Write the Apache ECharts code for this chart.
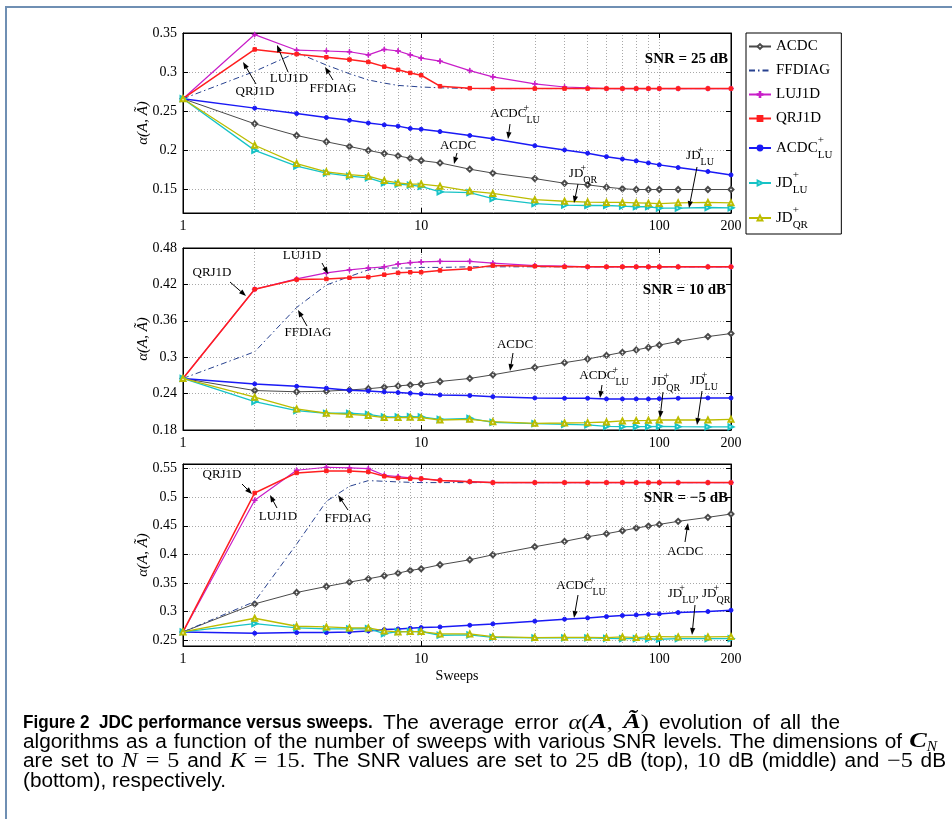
<!DOCTYPE html>
<html>
<head>
<meta charset="utf-8">
<title>JDC performance versus sweeps</title>
<script src="https://cdn.jsdelivr.net/npm/echarts@6/dist/echarts.min.js"></script>
<style>
  html, body { margin: 0; padding: 0; background: #fff; }
  #main { width: 952px; height: 819px; }
</style>
</head>
<body>
<div id="main"></div>
<script>
// sweeps on the x axis (log scale)
var sweeps = [1, 2, 3, 4, 5, 6, 7, 8, 9, 10, 12, 16, 20, 30, 40, 50, 60, 70, 80, 90, 100, 120, 160, 200];
var minorSweeps = [2, 3, 4, 5, 6, 7, 8, 9, 20, 30, 40, 50, 60, 70, 80, 90];

// SNR = 25 dB
var acdc25   = [0.266, 0.234, 0.219, 0.211, 0.205, 0.200, 0.196, 0.193, 0.190, 0.187, 0.184, 0.176, 0.171, 0.164, 0.158, 0.156, 0.153, 0.151, 0.150, 0.150, 0.150, 0.150, 0.150, 0.150];
var ffdiag25 = [0.266, 0.301, 0.325, 0.309, 0.298, 0.290, 0.286, 0.283, 0.282, 0.281, 0.280, 0.279, 0.279, 0.279, 0.279, 0.279, 0.279, 0.279, 0.279, 0.279, 0.279, 0.279, 0.279, 0.279];
var luj1d25  = [0.266, 0.348, 0.328, 0.327, 0.326, 0.322, 0.329, 0.327, 0.322, 0.318, 0.314, 0.302, 0.294, 0.285, 0.281, 0.280, 0.279, 0.279, 0.279, 0.279, 0.279, 0.279, 0.279, 0.279];
var qrj1d25  = [0.266, 0.329, 0.323, 0.319, 0.316, 0.313, 0.307, 0.303, 0.299, 0.296, 0.282, 0.2795, 0.279, 0.279, 0.279, 0.279, 0.279, 0.279, 0.279, 0.279, 0.279, 0.279, 0.279, 0.279];
var acdclu25 = [0.266, 0.254, 0.247, 0.242, 0.2385, 0.235, 0.2326, 0.231, 0.228, 0.227, 0.224, 0.219, 0.215, 0.206, 0.2006, 0.1964, 0.192, 0.189, 0.1866, 0.184, 0.1815, 0.178, 0.173, 0.1687];
var jdlu25   = [0.266, 0.200, 0.180, 0.171, 0.167, 0.165, 0.1585, 0.157, 0.1555, 0.154, 0.147, 0.146, 0.1385, 0.132, 0.130, 0.1296, 0.1296, 0.1287, 0.128, 0.128, 0.1262, 0.1262, 0.127, 0.1266];
var jdqr25   = [0.266, 0.2066, 0.1832, 0.1726, 0.169, 0.167, 0.1615, 0.1585, 0.157, 0.157, 0.1543, 0.148, 0.145, 0.137, 0.135, 0.134, 0.1335, 0.1335, 0.133, 0.1325, 0.132, 0.133, 0.1335, 0.133];

// SNR = 10 dB
var acdc10   = [0.265, 0.245, 0.243, 0.244, 0.246, 0.248, 0.2505, 0.2527, 0.2543, 0.2554, 0.260, 0.265, 0.271, 0.283, 0.291, 0.297, 0.303, 0.308, 0.312, 0.316, 0.320, 0.326, 0.334, 0.339];
var ffdiag10 = [0.265, 0.309, 0.382, 0.419, 0.433, 0.444, 0.447, 0.447, 0.447, 0.448, 0.448, 0.449, 0.449, 0.449, 0.449, 0.449, 0.449, 0.449, 0.449, 0.449, 0.449, 0.449, 0.449, 0.449];
var luj1d10  = [0.265, 0.412, 0.429, 0.439, 0.444, 0.447, 0.449, 0.4536, 0.4558, 0.457, 0.458, 0.458, 0.455, 0.451, 0.450, 0.449, 0.449, 0.449, 0.449, 0.449, 0.449, 0.449, 0.449, 0.449];
var qrj1d10  = [0.265, 0.412, 0.428, 0.429, 0.431, 0.432, 0.436, 0.439, 0.440, 0.440, 0.443, 0.446, 0.451, 0.450, 0.449, 0.449, 0.449, 0.449, 0.449, 0.449, 0.449, 0.449, 0.449, 0.449];
var acdclu10 = [0.265, 0.256, 0.252, 0.249, 0.2455, 0.2444, 0.2428, 0.2417, 0.2406, 0.2395, 0.2378, 0.2367, 0.235, 0.2328, 0.2323, 0.2323, 0.2312, 0.2312, 0.2312, 0.2312, 0.2317, 0.2323, 0.2328, 0.2328];
var jdlu10   = [0.265, 0.2268, 0.212, 0.2076, 0.2076, 0.2059, 0.2015, 0.2015, 0.202, 0.2015, 0.1976, 0.1993, 0.1927, 0.1905, 0.1894, 0.1883, 0.1861, 0.1855, 0.1855, 0.1855, 0.1861, 0.1855, 0.185, 0.185];
var jdqr10   = [0.265, 0.234, 0.2147, 0.2076, 0.2059, 0.2037, 0.2004, 0.2004, 0.2009, 0.2004, 0.1965, 0.1976, 0.1938, 0.191, 0.1915, 0.1921, 0.1932, 0.1949, 0.1955, 0.196, 0.1965, 0.1965, 0.1965, 0.1976];

// SNR = -5 dB
var acdcm5   = [0.2646, 0.3136, 0.3335, 0.344, 0.3516, 0.3574, 0.3627, 0.3673, 0.372, 0.3749, 0.3819, 0.3907, 0.3994, 0.4134, 0.4228, 0.4309, 0.4362, 0.4414, 0.4461, 0.4496, 0.4525, 0.4578, 0.4648, 0.4706];
var ffdiagm5 = [0.2646, 0.3177, 0.4181, 0.4928, 0.5191, 0.529, 0.5278, 0.5267, 0.526, 0.5255, 0.5255, 0.5255, 0.5255, 0.5255, 0.5255, 0.5255, 0.5255, 0.5255, 0.5255, 0.5255, 0.5255, 0.5255, 0.5255, 0.5255];
var luj1dm5  = [0.2646, 0.4946, 0.5471, 0.5523, 0.5512, 0.55, 0.5383, 0.536, 0.5337, 0.5319, 0.5296, 0.5272, 0.5255, 0.5255, 0.5255, 0.5255, 0.5255, 0.5255, 0.5255, 0.5255, 0.5255, 0.5255, 0.5255, 0.5255];
var qrj1dm5  = [0.2646, 0.5074, 0.5424, 0.5459, 0.5459, 0.5442, 0.5366, 0.5337, 0.5325, 0.5325, 0.5293, 0.5272, 0.5255, 0.5255, 0.5255, 0.5255, 0.5255, 0.5255, 0.5255, 0.5255, 0.5255, 0.5255, 0.5255, 0.5255];
var acdclum5 = [0.2646, 0.2622, 0.2634, 0.2634, 0.2646, 0.2663, 0.2687, 0.2698, 0.271, 0.2722, 0.2733, 0.2763, 0.2786, 0.2833, 0.2868, 0.2891, 0.2914, 0.2932, 0.2943, 0.2955, 0.2961, 0.2984, 0.3002, 0.3025];
var jdlum5   = [0.2646, 0.2792, 0.2716, 0.2698, 0.2698, 0.2704, 0.2617, 0.2652, 0.2652, 0.2652, 0.2588, 0.2593, 0.2552, 0.2541, 0.2541, 0.2541, 0.2535, 0.2529, 0.2529, 0.2523, 0.2518, 0.2529, 0.2529, 0.2529];
var jdqrm5   = [0.2646, 0.2885, 0.2745, 0.2733, 0.2716, 0.2716, 0.2663, 0.2646, 0.2652, 0.2652, 0.2611, 0.2611, 0.2564, 0.2547, 0.2552, 0.2552, 0.2547, 0.2558, 0.2547, 0.2564, 0.2564, 0.2558, 0.2558, 0.2564];

var algoNames = ['ACDC', 'FFDIAG', 'LUJ1D', 'QRJ1D', 'ACDC+LU', 'JD+LU', 'JD+QR'];
var panelData = [
  [acdc25, ffdiag25, luj1d25, qrj1d25, acdclu25, jdlu25, jdqr25],
  [acdc10, ffdiag10, luj1d10, qrj1d10, acdclu10, jdlu10, jdqr10],
  [acdcm5, ffdiagm5, luj1dm5, qrj1dm5, acdclum5, jdlum5, jdqrm5]
];
var snrLabels = ['SNR = 25 dB', 'SNR = 10 dB', 'SNR = \u22125 dB'];
// y ranges of the three panels
var yRanges = [[0.12, 0.35], [0.18, 0.48], [0.24, 0.558]];

var SERIF = '"Liberation Serif", "DejaVu Serif", serif';
var SANS = '"Liberation Sans", Arimo, Roboto, sans-serif';

// one style per algorithm
var styles = {
  'ACDC':    { color: '#4a4a4a', symbol: 'emptyDiamond', size: 5, width: 1, type: 'solid' },
  'FFDIAG':  { color: '#27418f', symbol: 'circle', size: 0, width: 1, type: [6, 3, 1.5, 3], hide: true },
  'LUJ1D':   { color: '#c81ec8', symbol: 'path://M-0.8,-6h1.6v5.2h5.2v1.6h-5.2v5.2h-1.6v-5.2h-5.2v-1.6h5.2z', size: 5, width: 1.2, type: 'solid' },
  'QRJ1D':   { color: '#ff1f1f', symbol: 'rect', size: 3.5, width: 1.5, type: 'solid' },
  'ACDC+LU': { color: '#1a1af5', symbol: 'circle', size: 4, width: 1.5, type: 'solid' },
  'JD+LU':   { color: '#17c3c6', symbol: 'emptyTriangle', size: 5, width: 1.3, type: 'solid', rotate: -90 },
  'JD+QR':   { color: '#bcbc00', symbol: 'emptyTriangle', size: 5, width: 1.3, type: 'solid' }
};

var grids = [
  { left: 183, width: 548, top: 33, height: 180 },
  { left: 183, width: 548, top: 248, height: 182 },
  { left: 183, width: 548, top: 464, height: 182 }
];

var dotted = { color: '#a8a8a8', width: 1, type: [1, 2] };
var black = { color: '#000' };

var xAxes = [], yAxes = [], series = [];
grids.forEach(function (g, p) {
  g.show = true;
  g.borderColor = '#000';
  g.borderWidth = 1;
  g.backgroundColor = 'transparent';
  xAxes.push({
    type: 'log', logBase: 10, gridIndex: p, min: 1, max: 200,
    axisLine: { lineStyle: black },
    axisTick: { inside: true, length: 5, lineStyle: black },
    axisLabel: { color: '#000', fontFamily: SERIF, fontSize: 14, margin: 6 },
    splitLine: { show: true, lineStyle: dotted },
    name: p === 2 ? 'Sweeps' : '', nameLocation: 'middle', nameGap: 23,
    nameTextStyle: { color: '#000', fontFamily: SERIF, fontSize: 14 }
  });
  var yAx = {
    type: 'value', gridIndex: p, min: yRanges[p][0], max: yRanges[p][1],
    axisLine: { show: true, lineStyle: black },
    axisTick: { show: true, inside: true, length: 5, lineStyle: black },
    axisLabel: { color: '#000', fontFamily: SERIF, fontSize: 14, margin: 6, showMinLabel: p === 1, showMaxLabel: p !== 2 },
    splitLine: { show: true, lineStyle: dotted },
    name: '\u03b1(A, \u00c3)', nameLocation: 'middle', nameGap: 32, nameRotate: 90,
    nameMoveOverlap: false,
    nameTextStyle: { color: '#000', fontFamily: SERIF, fontSize: 15, fontStyle: 'italic' }
  };
  if (p === 1) yAx.interval = 0.06;
  yAxes.push(yAx);

  // minor log grid lines
  series.push({
    name: 'grid' + p, type: 'line', xAxisIndex: p, yAxisIndex: p, data: [], z: 1,
    silent: true, animation: false,
    markLine: {
      silent: true, symbol: ['none', 'none'], animation: false,
      label: { show: false }, lineStyle: dotted,
      data: minorSweeps.map(function (v) { return { xAxis: v }; })
    }
  });

  algoNames.forEach(function (name, k) {
    var st = styles[name];
    var vals = panelData[p][k];
    series.push({
      name: name, type: 'line', xAxisIndex: p, yAxisIndex: p,
      data: sweeps.map(function (s, i) { return [s, vals[i]]; }),
      symbol: st.symbol, symbolSize: st.size, symbolRotate: st.rotate || 0,
      showSymbol: !st.hide,
      lineStyle: { color: st.color, width: st.width, type: st.type },
      itemStyle: { color: st.color, borderColor: st.color, borderWidth: 1 },
      emphasis: { disabled: true },
      animation: false, z: 3 + k
    });
  });
});

// mirror axes (top / right) that only carry inward ticks, like the original box
grids.forEach(function (g, p) {
  xAxes.push({
    type: 'log', logBase: 10, gridIndex: p, min: 1, max: 200, position: 'top',
    axisLine: { lineStyle: black }, axisLabel: { show: false }, splitLine: { show: false },
    axisTick: { inside: true, length: 5, lineStyle: black }
  });
  var yr = {
    type: 'value', gridIndex: p, min: yRanges[p][0], max: yRanges[p][1], position: 'right',
    axisLine: { show: true, lineStyle: black }, axisLabel: { show: false }, splitLine: { show: false },
    axisTick: { show: true, inside: true, length: 5, lineStyle: black }
  };
  if (p === 1) yr.interval = 0.06;
  yAxes.push(yr);
});

// rich styles for stacked super/subscripts
var legendRich = {
  a: { fontFamily: SERIF, fontSize: 15, color: '#000', lineHeight: 18 },
  b: { fontFamily: SERIF, fontSize: 15, color: '#000', lineHeight: 26 },
  p: { fontFamily: SERIF, fontSize: 11, color: '#000', width: 0, verticalAlign: 'top', lineHeight: 12 },
  s: { fontFamily: SERIF, fontSize: 11, color: '#000', verticalAlign: 'bottom', lineHeight: 12 }
};
function richName(name) {
  var parts = name.split('+');
  if (parts.length === 1) return '{a|' + name + '}';
  return '{b|' + parts[0] + '}{p|+}{s|' + parts[1] + '}';
}

var option = {
  backgroundColor: '#fff',
  grid: grids,
  xAxis: xAxes,
  yAxis: yAxes,
  legend: {
    data: algoNames.map(function (n) {
      return styles[n].hide ? { name: n, itemStyle: { opacity: 0 } } : { name: n };
    }),
    orient: 'vertical', left: 746, top: 33,
    itemWidth: 22, itemHeight: 6, itemGap: 9,
    padding: [6, 9, 3, 2],
    borderColor: '#000', borderWidth: 1, backgroundColor: '#fff',
    selectedMode: false,
    formatter: richName,
    textStyle: { rich: legendRich }
  },
  series: series
};

var chart = echarts.init(document.getElementById('main'), null, { renderer: 'canvas' });
chart.setOption(option);

// ---- annotations, labels and caption ----
var annRich = {
  b: { fontFamily: SERIF, fontSize: 13, fill: '#000', lineHeight: 22 },
  p: { fontFamily: SERIF, fontSize: 10, fill: '#000', width: 0, verticalAlign: 'top', lineHeight: 11 },
  s: { fontFamily: SERIF, fontSize: 10, fill: '#000', verticalAlign: 'bottom', lineHeight: 11 }
};
function annText(txt) {
  // "ACDC+LU" -> stacked, "JD+LU, JD+QR" -> two stacked pieces
  return txt.split(', ').map(function (piece) {
    var parts = piece.split('+');
    if (parts.length === 1) return '{b|' + piece + '}';
    return '{b|' + parts[0] + '}{p|+}{s|' + parts[1] + '}';
  }).join('{b|, }');
}

var notes = [
  ['QRJ1D', 255, 92, 256, 84, 243, 62],
  ['LUJ1D', 289, 79, 288, 72, 277, 45],
  ['FFDIAG', 333, 89, 333, 80, 325, 67],
  ['ACDC+LU', 515, 114, 510, 124, 508, 139],
  ['ACDC', 458, 146, 457, 153, 454, 164],
  ['JD+QR', 583, 174, 578, 184, 574, 203],
  ['JD+LU', 700, 156, 697, 167, 689, 208],
  ['QRJ1D', 212, 273, 230, 282, 246, 296],
  ['LUJ1D', 302, 256, 322, 263, 328, 274],
  ['FFDIAG', 308, 333, 307, 326, 298, 310],
  ['ACDC', 515, 345, 513, 353, 510, 371],
  ['ACDC+LU', 604, 376, 602, 385, 600, 398],
  ['JD+QR', 666, 382, 663, 392, 660, 418],
  ['JD+LU', 704, 381, 702, 391, 697, 425],
  ['QRJ1D', 222, 475, 242, 484, 252, 494],
  ['LUJ1D', 278, 517, 277, 508, 270, 495],
  ['FFDIAG', 348, 519, 348, 510, 338, 495],
  ['ACDC', 685, 552, 685, 542, 688, 523],
  ['ACDC+LU', 581, 586, 578, 595, 574, 618],
  ['JD+LU, JD+QR', 699, 594, 695, 605, 692, 635]
];

function arrow(x1, y1, x2, y2) {
  var ang = Math.atan2(y2 - y1, x2 - x1);
  var L = 7, W = 2.6;
  var bx = x2 - L * Math.cos(ang), by = y2 - L * Math.sin(ang);
  var nx = -Math.sin(ang) * W, ny = Math.cos(ang) * W;
  return [
    { type: 'line', silent: true, z: 50, shape: { x1: x1, y1: y1, x2: bx, y2: by }, style: { stroke: '#000', lineWidth: 1 } },
    { type: 'polygon', silent: true, z: 50, shape: { points: [[x2, y2], [bx + nx, by + ny], [bx - nx, by - ny]] }, style: { fill: '#000' } }
  ];
}

var elements = [];
// figure frame
elements.push({ type: 'rect', silent: true, z: 0, shape: { x: 6, y: 7, width: 1000, height: 1000 }, style: { fill: 'none', stroke: '#6f8fb3', lineWidth: 2 } });

notes.forEach(function (n) {
  elements.push({
    type: 'text', silent: true, z: 50, x: n[1], y: n[2],
    style: { text: annText(n[0]), rich: annRich, align: 'center', verticalAlign: 'middle', fill: '#000' }
  });
  elements = elements.concat(arrow(n[3], n[4], n[5], n[6]));
});

var snrPos = [[728, 59], [726, 290], [728, 498]];
snrLabels.forEach(function (t, i) {
  elements.push({
    type: 'text', silent: true, z: 50, x: snrPos[i][0], y: snrPos[i][1],
    style: { text: t, font: 'bold 15px ' + SERIF, fill: '#000', align: 'right', verticalAlign: 'middle' }
  });
});

// caption: laid out word by word; spaces outside the heading may stretch a little
var capFonts = {
  h:  { font: 'bold 19px ' + SANS, sx: 0.9, dy: 0, fixed: true },
  r:  { font: '20px ' + SANS, sx: 1.04, dy: 0 },
  m:  { font: 'italic 21px ' + SERIF, sx: 1.15, dy: 0 },
  n:  { font: '21px ' + SERIF, sx: 1.15, dy: 0 },
  mb: { font: 'italic bold 21px ' + SERIF, sx: 1.25, dy: 0 },
  sb: { font: 'italic 14px ' + SERIF, sx: 1.1, dy: 5 }
};
var capLines = [
  { y: 723, right: 840, parts: [['h', 'Figure 2  JDC performance versus sweeps.'], ['r', ' The average error '], ['m', '\u03b1'], ['n', '('], ['mb', 'A'], ['n', ','], ['n', ' '], ['mb', '\u00c3'], ['n', ')'], ['r', ' evolution of all the']] },
  { y: 742, right: 937, parts: [['r', 'algorithms as a function of the number of sweeps with various SNR levels. The dimensions of '], ['mb', 'C'], ['sb', 'N']] },
  { y: 761, right: 946, parts: [['r', 'are set to '], ['m', 'N'], ['n', ' = 5'], ['r', ' and '], ['m', 'K'], ['n', ' = 15'], ['r', '. The SNR values are set to '], ['n', '25'], ['r', ' dB (top), '], ['n', '10'], ['r', ' dB (middle) and '], ['n', '\u22125'], ['r', ' dB']] },
  { y: 781, right: 0, parts: [['r', '(bottom), respectively.']] }
];
var mctx = document.createElement('canvas').getContext('2d');
capLines.forEach(function (line) {
  var items = [];
  line.parts.forEach(function (pt) {
    var f = capFonts[pt[0]];
    mctx.font = f.font;
    pt[1].split(/( )/).forEach(function (tok) {
      if (tok === '') return;
      items.push({ f: f, text: tok, w: mctx.measureText(tok).width * f.sx, space: tok === ' ' && !f.fixed });
    });
  });
  var natural = 0, nSpaces = 0;
  items.forEach(function (it) { natural += it.w; if (it.space) nSpaces++; });
  var extra = line.right ? Math.max(0, (line.right - 23 - natural) / nSpaces) : 0;
  var x = 23;
  items.forEach(function (it) {
    if (it.text !== ' ') {
      elements.push({
        type: 'text', silent: true, z: 50, x: x, y: line.y + it.f.dy, scaleX: it.f.sx,
        style: { text: it.text, font: it.f.font, fill: '#000', align: 'left', verticalAlign: 'middle' }
      });
    }
    x += it.w + (it.space ? extra : 0);
  });
});

chart.setOption({ graphic: { elements: elements } });
</script>
</body>
</html>
